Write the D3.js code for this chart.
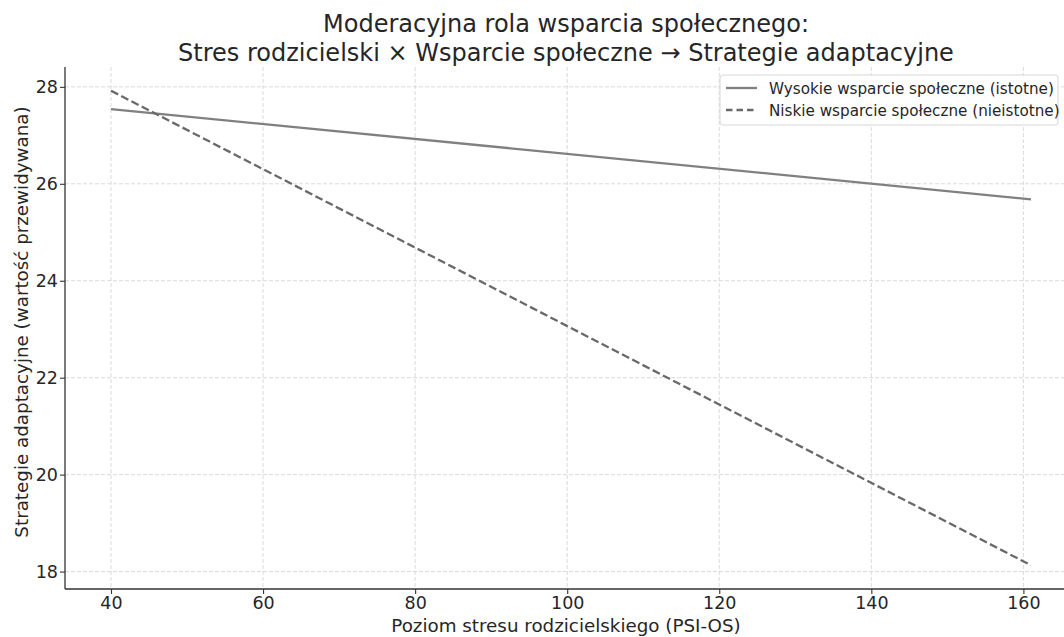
<!DOCTYPE html>
<html>
<head>
<meta charset="utf-8">
<script src="https://cdn.jsdelivr.net/npm/d3@7"></script>
<style>
  body { margin: 0; background: #fff; }
  svg { font-family: "DejaVu Sans", sans-serif; display: block; }
</style>
</head>
<body>
<div id="chart"></div>
<script>
// Data
const stressLevels = [40, 161]
const highSupport = [27.54, 25.68]
const lowSupport = [27.92, 18.13]
const xTicks = [40, 60, 80, 100, 120, 140, 160]
const yTicks = [18, 20, 22, 24, 26, 28]
const seriesNames = ['Wysokie wsparcie społeczne (istotne)', 'Niskie wsparcie społeczne (nieistotne)']

const width = 1064, height = 637
const plot = { left: 65, right: 1077, top: 67, bottom: 589 }

const svg = d3.select('#chart').append('svg')
  .attr('width', width)
  .attr('height', height)

// Scales (matplotlib-like 5% padding)
const xPad = (d3.max(stressLevels) - d3.min(stressLevels)) * 0.05
const allY = highSupport.concat(lowSupport)
const yPad = (d3.max(allY) - d3.min(allY)) * 0.05

const xScale = d3.scaleLinear()
  .domain([d3.min(stressLevels) - xPad, d3.max(stressLevels) + xPad])
  .range([plot.left, plot.right])

const yScale = d3.scaleLinear()
  .domain([d3.min(allY) - yPad, d3.max(allY) + yPad])
  .range([plot.bottom, plot.top])

// Grid
svg.append('g')
  .selectAll('line')
  .data(xTicks)
  .join('line')
  .attr('x1', d => xScale(d)).attr('x2', d => xScale(d))
  .attr('y1', plot.top).attr('y2', plot.bottom)
  .attr('stroke', '#d0d0d0').attr('stroke-width', 0.8)
  .attr('stroke-dasharray', '4,2')

svg.append('g')
  .selectAll('line')
  .data(yTicks)
  .join('line')
  .attr('x1', plot.left).attr('x2', plot.right)
  .attr('y1', d => yScale(d)).attr('y2', d => yScale(d))
  .attr('stroke', '#d0d0d0').attr('stroke-width', 0.8)
  .attr('stroke-dasharray', '4,2')

// Axes
const xAxis = d3.axisBottom(xScale).tickValues(xTicks).tickSize(5).tickPadding(3)
const xAxisGroup = svg.append('g')
  .attr('transform', `translate(0, ${plot.bottom})`)
  .call(xAxis)
xAxisGroup.select('.domain').attr('d', `M${plot.left},0H${plot.right}`)

const yAxis = d3.axisLeft(yScale).tickValues(yTicks).tickSize(5).tickPadding(2)
const yAxisGroup = svg.append('g')
  .attr('transform', `translate(${plot.left}, 0)`)
  .call(yAxis)
yAxisGroup.select('.domain').attr('d', `M0,${plot.top}V${plot.bottom}`)

svg.selectAll('.domain').attr('stroke', '#333').attr('stroke-width', 1.3)
svg.selectAll('.tick line').attr('stroke', '#333').attr('stroke-width', 1.1)
svg.selectAll('.tick text')
  .attr('fill', '#262626')
  .style('font-size', '17.5px')
  .style('font-family', '"DejaVu Sans", sans-serif')

// Lines
const line = d3.line()
  .x((d, i) => xScale(stressLevels[i]))
  .y(d => yScale(d))

svg.append('path')
  .datum(highSupport)
  .attr('d', line)
  .attr('fill', 'none')
  .attr('stroke', '#808080')
  .attr('stroke-width', 2.3)

svg.append('path')
  .datum(lowSupport)
  .attr('d', line)
  .attr('fill', 'none')
  .attr('stroke', '#696969')
  .attr('stroke-width', 2.3)
  .attr('stroke-dasharray', '8,3.5')

// Axis labels
svg.append('text')
  .text('Poziom stresu rodzicielskiego (PSI-OS)')
  .attr('x', 566)
  .attr('y', 632)
  .attr('text-anchor', 'middle')
  .attr('fill', '#262626')
  .style('font-size', '18.3px')

svg.append('text')
  .text('Strategie adaptacyjne (wartość przewidywana)')
  .attr('transform', `translate(28, 322) rotate(-90)`)
  .attr('text-anchor', 'middle')
  .attr('fill', '#262626')
  .style('font-size', '18.3px')

// Title
const title = svg.append('text')
  .attr('text-anchor', 'middle')
  .attr('fill', '#262626')
  .style('font-size', '24px')
title.append('tspan')
  .attr('x', 566).attr('y', 32)
  .text('Moderacyjna rola wsparcia społecznego:')
title.append('tspan')
  .attr('x', 566).attr('y', 61)
  .text('Stres rodzicielski × Wsparcie społeczne → Strategie adaptacyjne')

// Legend
const legend = svg.append('g').attr('transform', 'translate(720, 75)')
legend.append('rect')
  .attr('width', 338).attr('height', 50)
  .attr('rx', 3)
  .attr('fill', 'rgba(255,255,255,0.85)')
  .attr('stroke', '#d6d6d6')

seriesNames.forEach((name, i) => {
  const row = legend.append('g').attr('transform', `translate(0, ${13 + i * 22})`)
  row.append('line')
    .attr('x1', 6).attr('x2', 37)
    .attr('stroke', i === 0 ? '#808080' : '#696969')
    .attr('stroke-width', 2.3)
    .attr('stroke-dasharray', i === 0 ? null : '6.5,4')
  row.append('text')
    .text(name)
    .attr('x', 49).attr('y', 5.5)
    .attr('fill', '#262626')
    .style('font-size', '15.2px')
})
</script>
</body>
</html>
